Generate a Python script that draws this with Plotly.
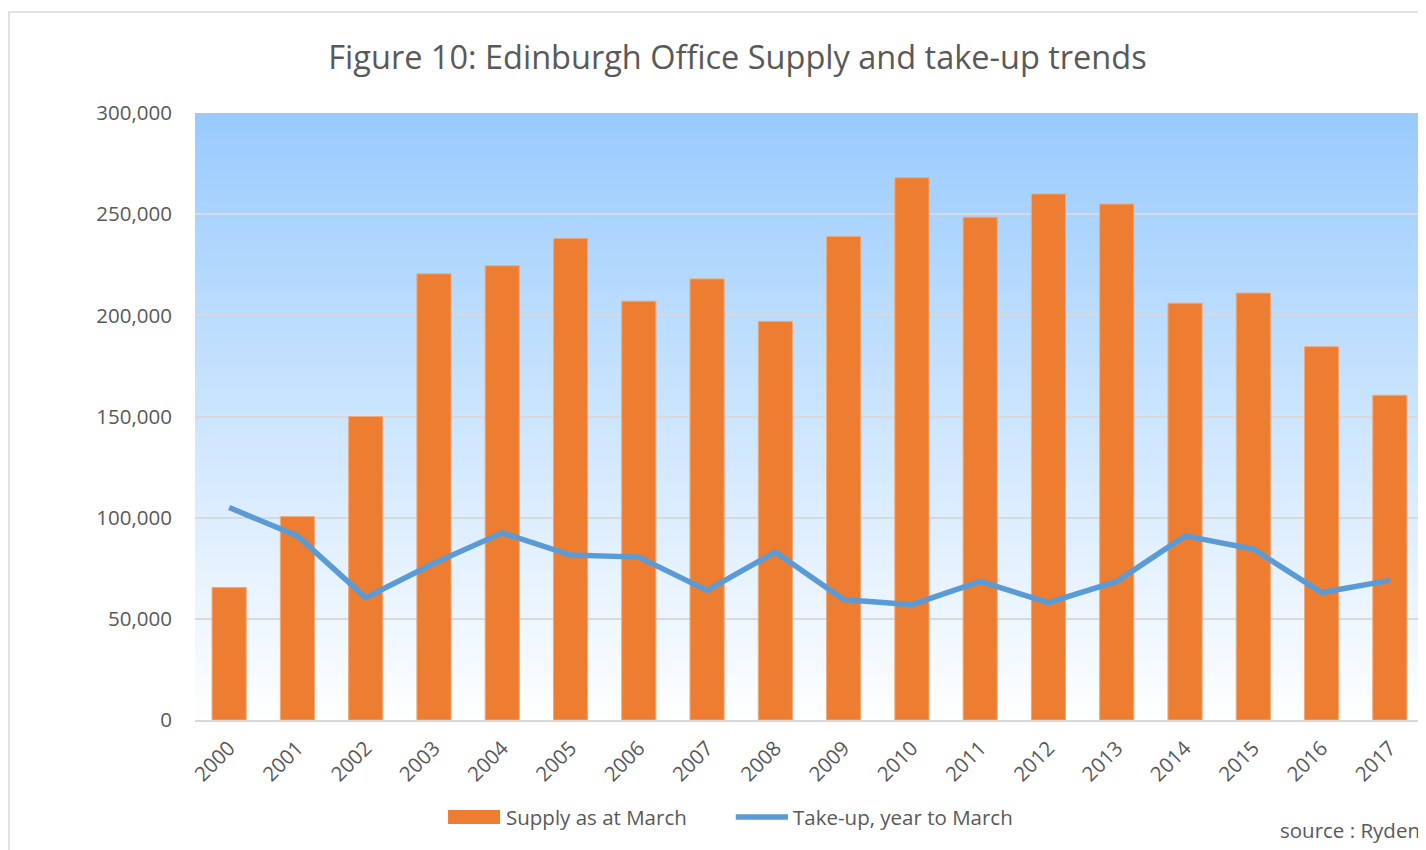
import plotly.graph_objects as go

years = [str(y) for y in range(2000, 2018)]
supply = [65500, 100500, 150000, 220500, 224500, 238000, 207000, 218000, 197000,
          239000, 268000, 248500, 260000, 255000, 206000, 211000, 184500, 160500]
takeup = [105000, 91000, 60500, 77500, 92500, 81500, 80500, 64000, 83000,
          59500, 57000, 68500, 58000, 68500, 91000, 84500, 63000, 69000]
ytick_vals = [0, 50000, 100000, 150000, 200000, 250000, 300000]
ytick_text = ["0", "50,000", "100,000", "150,000", "200,000", "250,000", "300,000"]

FONT = "Open Sans"
GREY = "#595959"
ORANGE = "#ED7D31"
BLUE = "#5B9BD5"

fig = go.Figure()
fig.add_trace(go.Bar(
    x=years, y=supply, name="Supply as at March",
    marker=dict(color=ORANGE, line=dict(color="#F2A774", width=1)),
    showlegend=False,
))
fig.add_trace(go.Scatter(
    x=years, y=takeup, name="Take-up, year to March", mode="lines",
    line=dict(color=BLUE, width=5.5),
    showlegend=False,
))

# vertical gradient background of the plot area (overlapping bands, no seams)
shapes = []
n = 150
top = (153, 203, 254)
for i in range(n):
    t = i / n
    r = int(round(top[0] + (255 - top[0]) * t))
    g = int(round(top[1] + (255 - top[1]) * t))
    b = int(round(top[2] + (255 - top[2]) * t))
    shapes.append(dict(
        type="rect", xref="x domain", yref="y domain",
        x0=0, x1=1, y0=0, y1=1 - i / n,
        fillcolor=f"rgb({r},{g},{b})", line=dict(width=0), layer="below",
    ))
# outer chart border
shapes.append(dict(
    type="rect", xref="paper", yref="paper",
    x0=-0.1513, x1=1.03, y0=-0.3, y1=1.1664,
    line=dict(color="#D9D9D9", width=1.5), fillcolor="rgba(0,0,0,0)", layer="below",
))
# custom legend swatches
shapes.append(dict(
    type="rect", xref="paper", yref="paper",
    x0=0.2059, x1=0.2482, y0=-0.1713, y1=-0.1483,
    fillcolor=ORANGE, line=dict(width=0),
))
shapes.append(dict(
    type="line", xref="paper", yref="paper",
    x0=0.4400, x1=0.4825, y0=-0.1598, y1=-0.1598,
    line=dict(color=BLUE, width=5.5),
))

annotations = [
    dict(text="Supply as at March", xref="paper", yref="paper",
         x=0.2514, xanchor="left", y=-0.1598, yanchor="middle",
         showarrow=False, font=dict(family=FONT, size=20.5, color=GREY)),
    dict(text="Take-up, year to March", xref="paper", yref="paper",
         x=0.4846, xanchor="left", y=-0.1598, yanchor="middle",
         showarrow=False, font=dict(family=FONT, size=20.5, color=GREY)),
    dict(text="source : Ryden", xref="paper", yref="paper",
         x=0.8812, xanchor="left", y=-0.1812, yanchor="middle",
         showarrow=False, font=dict(family=FONT, size=20.5, color=GREY)),
]

fig.update_layout(
    width=1426, height=850,
    margin=dict(l=187, r=10, t=105, b=138),
    paper_bgcolor="white", plot_bgcolor="white",
    bargap=0.5,
    shapes=shapes,
    annotations=annotations,
    showlegend=False,
    title=dict(
        text="Figure 10: Edinburgh Office Supply and take-up trends",
        x=729.5 / 1426, xanchor="center", y=1 - 50 / 850, yanchor="middle",
        font=dict(family=FONT, size=32.5, color=GREY),
    ),
)
fig.update_xaxes(
    type="category", tickangle=-45, showgrid=False,
    tickfont=dict(family=FONT, size=20.5, color=GREY),
    showline=True, linecolor="#D9D9D9", linewidth=2,
    ticks="", ticklabelstandoff=6,
)
fig.update_yaxes(
    range=[0, 300000], tickvals=ytick_vals, ticktext=ytick_text,
    showgrid=True, gridcolor="#D9D9D9", gridwidth=1.5,
    zeroline=False, showline=False, ticks="", ticklabelstandoff=22,
    tickfont=dict(family=FONT, size=20.5, color=GREY),
)

fig.write_html("out.html")
